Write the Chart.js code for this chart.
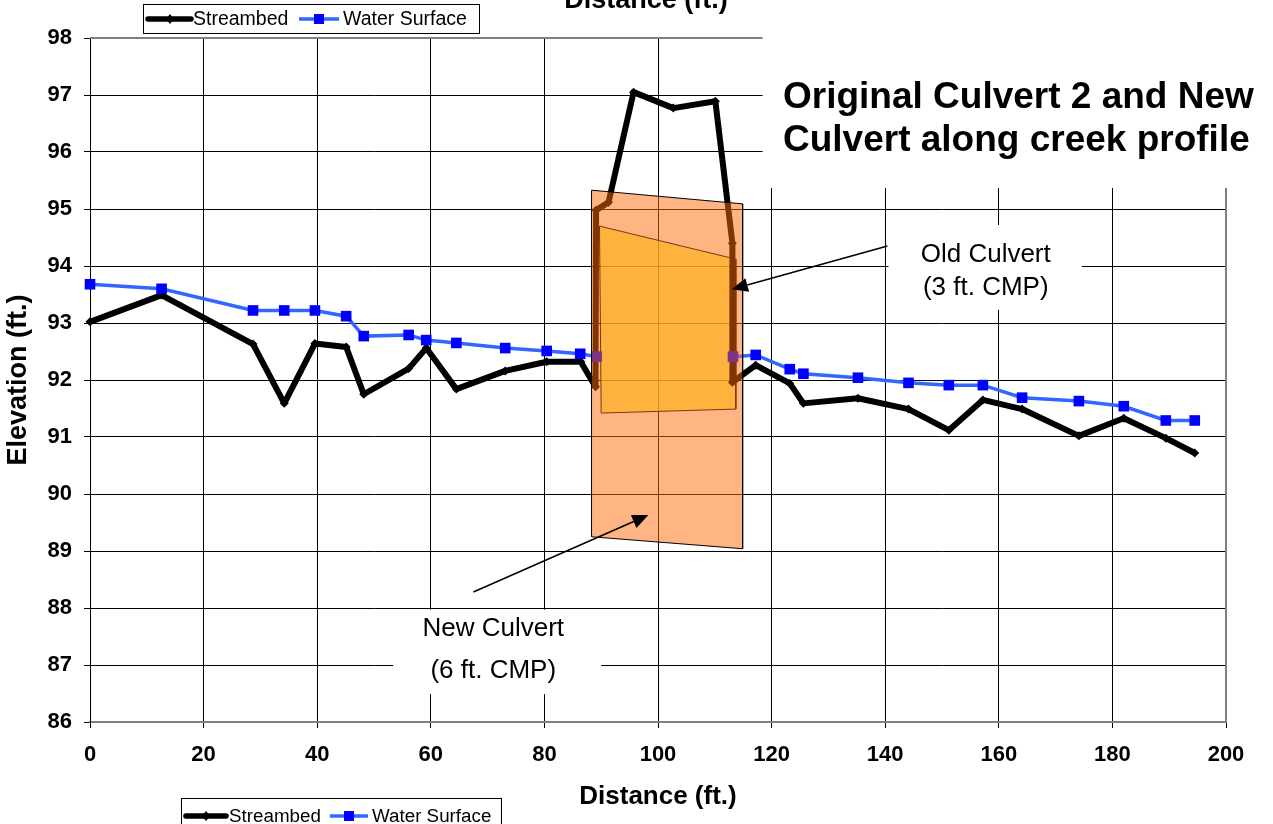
<!DOCTYPE html>
<html><head><meta charset="utf-8">
<script src="https://cdn.jsdelivr.net/npm/chart.js@4.4.1/dist/chart.umd.min.js"></script>
<style>html,body{margin:0;padding:0;background:#fff;overflow:hidden}canvas{display:block}</style>
</head><body>
<canvas id="c" width="1273" height="824"></canvas>
<script>
// ---- data ----
const sbX = [0, 12.6, 28.7, 34.2, 39.6, 45.1, 48.2, 56.1, 59.2, 64.5, 73.1, 80.4, 86.4, 89.0, 89.1, 91.3, 95.7, 102.7, 110.1, 113.1, 113.1, 117.2, 123.2, 125.6, 135.2, 144.1, 151.2, 157.2, 164.1, 174.1, 182.0, 189.4, 194.5];
const sbY = [93.02, 93.49, 92.63, 91.59, 92.64, 92.58, 91.75, 92.2, 92.56, 91.84, 92.16, 92.32, 92.32, 91.88, 94.98, 95.12, 97.05, 96.77, 96.89, 94.4, 91.96, 92.26, 91.94, 91.59, 91.68, 91.49, 91.12, 91.65, 91.49, 91.02, 91.33, 90.98, 90.72];
const wsX = [0, 12.6, 28.7, 34.2, 39.6, 45.1, 48.2, 56.1, 59.2, 64.5, 73.1, 80.4, 86.3, 89.2, 101, 113.2, 117.2, 123.2, 125.6, 135.2, 144.1, 151.2, 157.2, 164.1, 174.1, 182.0, 189.4, 194.5];
const wsY = [93.68, 93.6, 93.22, 93.22, 93.22, 93.12, 92.77, 92.79, 92.7, 92.65, 92.56, 92.51, 92.46, 92.41, null, 92.41, 92.44, 92.19, 92.11, 92.04, 91.95, 91.91, 91.91, 91.69, 91.63, 91.54, 91.29, 91.29];
const newCulvertX = [88.3, 114.9, 114.9, 88.3];
const newCulvertY = [95.33, 95.09, 89.04, 89.25];
const oldCulvertX = [89.7, 113.7, 113.7, 90.0];
const oldCulvertY = [94.70, 94.12, 91.49, 91.42];
const xTicks = [0, 20, 40, 60, 80, 100, 120, 140, 160, 180, 200];
const yTicks = [86, 87, 88, 89, 90, 91, 92, 93, 94, 95, 96, 97, 98];
const seriesNames = ['Streambed', 'Water Surface'];
const titleLines = ['Original Culvert 2 and New', 'Culvert along creek profile'];
const xTitle = 'Distance (ft.)';
const yTitle = 'Elevation (ft.)';
const oldLabel = ['Old Culvert', '(3 ft. CMP)'];
const newLabel = ['New Culvert', '(6 ft. CMP)'];

const FONT = "'Liberation Sans', Arial, sans-serif";
const pts = (xs, ys) => xs.map((x, i) => ({x: x, y: ys[i]}));
const closed = (xs, ys) => { const p = pts(xs, ys); p.push({x: p[0].x, y: p[0].y}); return p; };

function arrow(ctx, x0, y0, x1, y1) {
  const a = Math.atan2(y1 - y0, x1 - x0), L = 16, W = 7;
  const bx = x1 - L * Math.cos(a), by = y1 - L * Math.sin(a);
  ctx.strokeStyle = '#000'; ctx.lineWidth = 1.5;
  ctx.beginPath(); ctx.moveTo(x0, y0); ctx.lineTo(bx, by); ctx.stroke();
  ctx.fillStyle = '#000'; ctx.beginPath();
  ctx.moveTo(x1, y1);
  ctx.lineTo(bx + W * Math.sin(a), by - W * Math.cos(a));
  ctx.lineTo(bx - W * Math.sin(a), by + W * Math.cos(a));
  ctx.closePath(); ctx.fill();
}

function legend(ctx, bx, by, bw, bh, cy, l1, d1, t1, l2, s2, t2, fs) {
  ctx.save();
  ctx.fillStyle = '#fff'; ctx.fillRect(bx, by, bw, bh);
  ctx.strokeStyle = '#000'; ctx.lineWidth = 1; ctx.strokeRect(bx + 0.5, by + 0.5, bw, bh);
  ctx.strokeStyle = '#000'; ctx.lineWidth = 5.5; ctx.lineCap = 'round';
  ctx.beginPath(); ctx.moveTo(l1[0], cy); ctx.lineTo(l1[1], cy); ctx.stroke();
  ctx.fillStyle = '#000'; ctx.beginPath();
  ctx.moveTo(d1, cy - 5); ctx.lineTo(d1 + 4, cy); ctx.lineTo(d1, cy + 5); ctx.lineTo(d1 - 4, cy); ctx.closePath(); ctx.fill();
  ctx.strokeStyle = 'rgb(51,102,255)'; ctx.lineWidth = 3.5; ctx.lineCap = 'butt';
  ctx.beginPath(); ctx.moveTo(l2[0], cy); ctx.lineTo(l2[1], cy); ctx.stroke();
  ctx.fillStyle = '#0000ff'; ctx.fillRect(s2 - 5, cy - 5, 10, 10);
  ctx.fillStyle = '#000'; ctx.font = fs + 'px ' + FONT; ctx.textBaseline = 'middle'; ctx.textAlign = 'left';
  ctx.fillText(seriesNames[0], t1, cy + 1);
  ctx.fillText(seriesNames[1], t2, cy + 1);
  ctx.restore();
}

const decor = {
  id: 'decor',
  afterDraw(chart) {
    const ctx = chart.ctx, a = chart.chartArea;
    const xs = chart.scales.x, ys = chart.scales.y;
    const px = v => xs.getPixelForValue(v), py = v => ys.getPixelForValue(v);
    ctx.save();
    // plot frame (grey top/right)
    ctx.strokeStyle = '#808080'; ctx.lineWidth = 2;
    ctx.beginPath(); ctx.moveTo(a.left, a.top); ctx.lineTo(a.right, a.top); ctx.lineTo(a.right, a.bottom); ctx.stroke();
    // white label boxes
    ctx.fillStyle = '#fff';
    ctx.fillRect(px(118.4), 0, chart.width - px(118.4), py(95.37));
    ctx.fillRect(px(140.4) + 1, py(94.72), px(174.6) - px(140.4) - 1, py(93.23) - py(94.72));
    ctx.fillRect(px(53.4), py(87.97), px(90.0) - px(53.4), py(86.49) - py(87.97));
    // title
    ctx.fillStyle = '#000'; ctx.textAlign = 'left'; ctx.textBaseline = 'alphabetic';
    ctx.font = 'bold 37px ' + FONT;
    ctx.fillText(titleLines[0], 783, 108);
    ctx.fillText(titleLines[1], 783, 151);
    // annotations
    ctx.font = '26px ' + FONT; ctx.textAlign = 'center';
    ctx.fillText(oldLabel[0], px(157.7), py(94.07));
    ctx.fillText(oldLabel[1], px(157.7), py(93.49));
    ctx.fillText(newLabel[0], px(71.0), py(87.51));
    ctx.fillText(newLabel[1], px(71.0), py(86.77));
    arrow(ctx, px(140.4), py(94.35), px(113.0), py(93.59));
    arrow(ctx, px(67.5), py(88.28), px(98.3), py(89.63));
    // clipped duplicate axis title at top
    ctx.font = 'bold 27px ' + FONT; ctx.textAlign = 'center';
    ctx.fillText(xTitle, 646, 8);
    ctx.restore();
    legend(ctx, 143, 4, 336, 29, 19, [148, 191], 170, 193, [299, 339], 319, 343, 19.5);
    legend(ctx, 181, 798, 320, 40, 816, [186, 226], 206, 229, [330, 368], 349, 372, 18.8);
  }
};

const tickFont = {family: FONT, size: 22, weight: 'bold'};

new Chart(document.getElementById('c'), {
  type: 'scatter',
  data: {
    datasets: [
      {label: 'Old Culvert', data: closed(oldCulvertX, oldCulvertY), showLine: true, fill: 'shape',
       backgroundColor: 'rgba(255,252,55,0.7)', borderColor: '#000', borderWidth: 1, pointRadius: 0, order: 3},
      {label: seriesNames[0], data: pts(sbX, sbY), showLine: true, borderColor: '#000', borderWidth: 6,
       borderJoinStyle: 'round', pointStyle: 'rectRot', pointRadius: 4.5, pointBackgroundColor: '#000',
       pointBorderColor: '#000', pointBorderWidth: 0, order: 2, clip: false},
      {label: seriesNames[1], data: pts(wsX, wsY), showLine: true, spanGaps: false, borderColor: 'rgb(51,102,255)',
       borderWidth: 3.5, pointStyle: 'rect', pointRadius: 7.5, pointBackgroundColor: '#0000ff',
       pointBorderColor: '#0000ff', pointBorderWidth: 0, order: 1, clip: false},
      {label: 'New Culvert', data: closed(newCulvertX, newCulvertY), showLine: true, fill: 'shape',
       backgroundColor: 'rgba(255,105,10,0.5)', borderColor: '#000', borderWidth: 1, pointRadius: 0, order: 0}
    ]
  },
  options: {
    responsive: false, animation: false,
    layout: {padding: {left: 0, right: 47, top: 38, bottom: 0}},
    plugins: {legend: {display: false}, tooltip: {enabled: false}},
    scales: {
      x: {
        type: 'linear', min: 0, max: 200,
        afterBuildTicks: s => { s.ticks = xTicks.map(v => ({value: v})); },
        afterFit: s => { s.height = 102; },
        ticks: {font: tickFont, color: '#000', padding: 14, maxRotation: 0, autoSkip: false},
        grid: {color: '#000', lineWidth: 1, tickLength: 6, tickColor: '#000'},
        border: {color: '#808080', width: 2},
        title: {display: true, text: xTitle, font: {family: FONT, size: 26, weight: 'bold'}, color: '#000', padding: {top: 0, bottom: 12}}
      },
      y: {
        type: 'linear', min: 86, max: 98,
        afterBuildTicks: s => { s.ticks = yTicks.map(v => ({value: v})); },
        afterFit: s => { s.width = 90; },
        ticks: {font: tickFont, color: '#000', padding: 12, autoSkip: false},
        grid: {color: '#000', lineWidth: 1, tickLength: 6, tickColor: '#000'},
        border: {color: '#000', width: 1},
        title: {display: true, text: yTitle, font: {family: FONT, size: 27, weight: 'bold'}, color: '#000', padding: {top: 2, bottom: 0}}
      }
    }
  },
  plugins: [decor]
});
</script>
</body></html>
